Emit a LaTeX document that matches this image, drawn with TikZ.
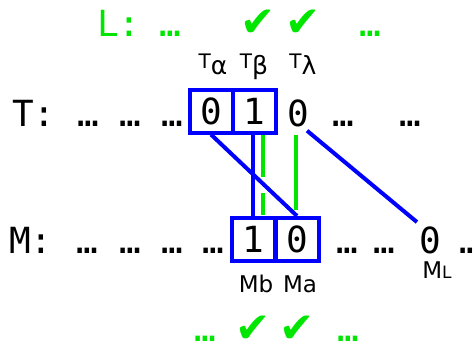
\documentclass[tikz,border=0pt]{standalone}
\usepackage{fontspec}
\setmainfont{DejaVu Sans}
\newfontfamily\monofam{DejaVu Sans Mono}
\newfontfamily\symfam{DejaVu Sans}
\definecolor{lgreen}{RGB}{0,230,0}
\definecolor{pblue}{RGB}{0,0,255}
\tikzset{
  mono/.style={inner sep=0pt, anchor=base, font=\monofam\fontsize{36}{36}\selectfont},
  cell/.style={draw=pblue, line width=4pt, minimum width=43pt, minimum height=43pt, inner sep=0pt, font=\monofam\fontsize{36}{36}\selectfont},
  lab/.style={inner sep=0pt, anchor=base, font=\fontsize{23}{23}\selectfont},
  tlab/.style={inner sep=0pt, anchor=base, font=\fontsize{20}{20}\selectfont},
  chk/.style={inner sep=0pt, text=lgreen, font=\symfam\fontsize{42}{42}\selectfont},
  gmono/.style={mono, text=lgreen},
  bline/.style={draw=pblue, line width=4pt},
  gline/.style={draw=lgreen, line width=4pt},
}
\newcommand\gsub[1]{\raisebox{-6pt}{\fontsize{25}{25}\selectfont #1}}
\begin{document}
\begin{tikzpicture}[x=1pt,y=-1pt]
\useasboundingbox (0,0) rectangle (474,349);
% top L row
\node[gmono] (lL) at (119,36) {L:};
\node[gmono] (ld1) at (170,36) {…};
\node[chk] (lc1) at (258,23) {✔};
\node[chk] (lc2) at (303,23) {✔};
\node[gmono] (ld2) at (370,36) {…};
% T labels
\node[tlab] (la) at (213,68) {T\gsub{α}};
\node[tlab] (lb) at (254,68) {T\gsub{β}};
\node[tlab] (ll) at (303,68) {T\gsub{λ}};
% T row
\node[mono] (tT) at (34,126) {T:};
\node[mono] (td1) at (88,126) {…};
\node[mono] (td2) at (130,126) {…};
\node[mono] (td3) at (172,126) {…};
\node[cell] (ta) at (211,111) {0};
\node[cell] (tb) at (254.5,111) {1};
\node[mono] (tz) at (298,126) {0};
\node[mono] (td4) at (343,126) {…};
\node[mono] (td5) at (410,126) {…};
% M row
\node[mono] (mM) at (31,253) {M:};
\node[mono] (md1) at (87,253) {…};
\node[mono] (md2) at (130,253) {…};
\node[mono] (md3) at (172,253) {…};
\node[mono] (md4) at (213,253) {…};
\node[cell] (mb) at (253,239.5) {1};
\node[cell] (ma) at (297,239.5) {0};
\node[mono] (md5) at (347,253) {…};
\node[mono] (md6) at (384,253) {…};
\node[mono] (mz) at (430,253) {0};
\node[mono] (md7) at (470,253) {…};
% M labels
\node[lab] (lmb) at (256,292) {Mb};
\node[lab] (lma) at (300,292) {Ma};
\node[lab] (lml) at (437,278) {M{\fontsize{17}{17}\selectfont L}};
% bottom row
\node[gmono] (bd1) at (205,341) {…};
\node[chk] (bc1) at (253,329) {✔};
\node[chk] (bc2) at (297,329) {✔};
\node[gmono] (bd2) at (348,341) {…};
% green lines
\coordinate (g1a) at (263,135);
\coordinate (g1b) at (263,177);
\coordinate (g1c) at (263,193);
\coordinate (g1d) at (263,215);
\coordinate (g2a) at (296,135);
\coordinate (g2b) at (296,210);
\draw[gline] (g1a) -- (g1b);
\draw[gline] (g1c) -- (g1d);
\draw[gline] (g2a) -- (g2b);
% blue lines
\draw[bline] (ta.south) -- (ma.north);
\draw[bline] (mb.north) -- (mb.north |- tb.south);
\draw[bline] ([xshift=-2pt,yshift=-4pt]tz.south east) -- ([xshift=-2pt,yshift=4pt]mz.north west);
\end{tikzpicture}
\end{document}
